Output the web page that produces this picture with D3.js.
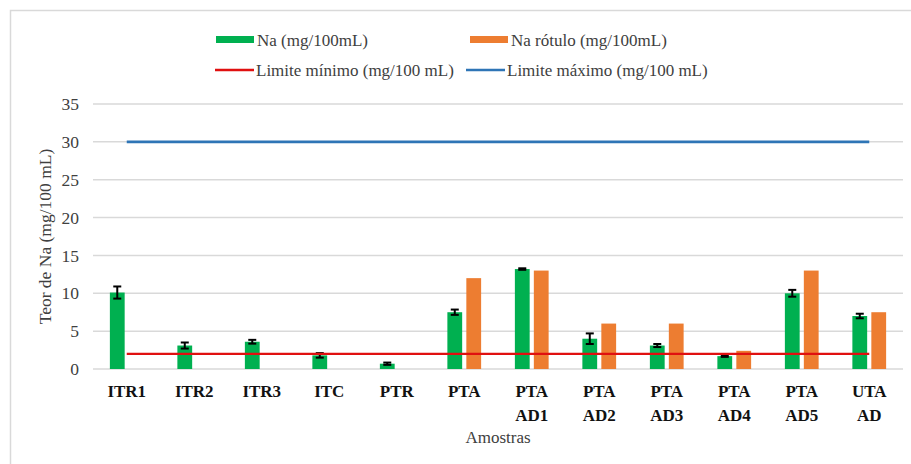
<!DOCTYPE html>
<html>
<head>
<meta charset="utf-8">
<script src="https://cdn.jsdelivr.net/npm/d3@7"></script>
<style>
  body { margin: 0; background: #fff; }
  svg text { font-family: "Liberation Serif", "DejaVu Serif", "Times New Roman", serif !important; }
</style>
</head>
<body>
<svg id="chart" width="911" height="464"></svg>
<script>
// data
var categories = ["ITR1", "ITR2", "ITR3", "ITC", "PTR", "PTA", "PTA AD1", "PTA AD2", "PTA AD3", "PTA AD4", "PTA AD5", "UTA AD"];
var naValues   = [10.1, 3.1, 3.6, 1.8, 0.7, 7.5, 13.2, 4.0, 3.1, 1.7, 10.0, 7.0];
var naErrors   = [0.8, 0.4, 0.25, 0.3, 0.15, 0.35, 0.1, 0.7, 0.2, 0.1, 0.45, 0.3];
var rotuloValues = [null, null, null, null, null, 12, 13, 6, 6, 2.4, 13, 7.5];
var limiteMin = [2, 2, 2, 2, 2, 2, 2, 2, 2, 2, 2, 2];
var limiteMax = [30, 30, 30, 30, 30, 30, 30, 30, 30, 30, 30, 30];
var yTicks = [0, 5, 10, 15, 20, 25, 30, 35];

var seriesNames = ["Na (mg/100mL)", "Na rótulo (mg/100mL)"];
var lineNames = ["Limite mínimo (mg/100 mL)", "Limite máximo (mg/100 mL)"];
var colors = { na: "#00b050", rotulo: "#ed7d31", min: "#e01010", max: "#2e75b6" };

var svg = d3.select("#chart");
var margin = { left: 93, right: 8, top: 104, bottom: 95 };
var W = 911, H = 464;

// outer frame
svg.append("rect")
  .attr("x", 10.5).attr("y", 10.5)
  .attr("width", 920).attr("height", 480)
  .attr("fill", "none").attr("stroke", "#d9d9d9").attr("stroke-width", 1.5);

var x0 = d3.scaleBand()
  .domain(categories)
  .range([margin.left, W - margin.right])
  .paddingInner(0.5)
  .paddingOuter(0.25);

var x1 = d3.scaleBand()
  .domain(["na", "rotulo"])
  .range([0, x0.bandwidth()])
  .paddingInner(0.22);

var y = d3.scaleLinear().domain([0, 35]).range([H - margin.bottom, margin.top]);

// gridlines
svg.append("g").selectAll("line").data(yTicks).join("line")
  .attr("x1", margin.left).attr("x2", W - margin.right)
  .attr("y1", function(d) { return y(d); }).attr("y2", function(d) { return y(d); })
  .attr("stroke", "#d9d9d9").attr("stroke-width", 1.5);

// y axis labels
var yAxis = svg.append("g")
  .attr("transform", "translate(" + (margin.left - 14) + ",0)")
  .call(d3.axisLeft(y).tickValues(yTicks).tickSize(0).tickPadding(0));
yAxis.select(".domain").remove();
yAxis.attr("font-family", null).attr("font-size", null);
yAxis.selectAll("text")
  .attr("font-size", 17.5).attr("fill", "#404040");

// bars: Na
svg.append("g").selectAll("rect").data(categories).join("rect")
  .attr("x", function(d) { return x0(d) + x1("na"); })
  .attr("width", x1.bandwidth())
  .attr("y", function(d, i) { return y(naValues[i]); })
  .attr("height", function(d, i) { return y(0) - y(naValues[i]); })
  .attr("fill", colors.na);

// bars: rótulo
svg.append("g").selectAll("rect").data(categories.filter(function(d, i) { return rotuloValues[i] != null; })).join("rect")
  .attr("x", function(d) { return x0(d) + x1("rotulo"); })
  .attr("width", x1.bandwidth())
  .attr("y", function(d) { return y(rotuloValues[categories.indexOf(d)]); })
  .attr("height", function(d) { return y(0) - y(rotuloValues[categories.indexOf(d)]); })
  .attr("fill", colors.rotulo);

// error bars
var eb = svg.append("g").attr("stroke", "#000").attr("stroke-width", 2);
categories.forEach(function(c, i) {
  var cx = x0(c) + x1("na") + x1.bandwidth() / 2;
  var lo = y(naValues[i] - naErrors[i]), hi = y(naValues[i] + naErrors[i]);
  eb.append("line").attr("x1", cx).attr("x2", cx).attr("y1", lo).attr("y2", hi);
  eb.append("line").attr("x1", cx - 4).attr("x2", cx + 4).attr("y1", lo).attr("y2", lo);
  eb.append("line").attr("x1", cx - 4).attr("x2", cx + 4).attr("y1", hi).attr("y2", hi);
});

// limit lines
var lineGen = function(vals) {
  return d3.line()
    .x(function(d, i) { return x0(categories[i]) + x0.bandwidth() / 2; })
    .y(function(d) { return y(d); })(vals);
};
svg.append("path").attr("d", lineGen(limiteMin))
  .attr("fill", "none").attr("stroke", colors.min).attr("stroke-width", 2.2);
svg.append("path").attr("d", lineGen(limiteMax))
  .attr("fill", "none").attr("stroke", colors.max).attr("stroke-width", 2.8);

// x labels
var xl = svg.append("g");
categories.forEach(function(c) {
  var parts = c.split(" ");
  var t = xl.append("text")
    .attr("x", x0(c) + x0.bandwidth() / 2)
    .attr("y", 397)
    .attr("text-anchor", "middle")
    .attr("font-size", 17).attr("font-weight", "bold").attr("fill", "#111");
  parts.forEach(function(p, k) {
    t.append("tspan").attr("x", x0(c) + x0.bandwidth() / 2).attr("dy", k === 0 ? 0 : 24).text(p);
  });
});

// axis titles
svg.append("text")
  .attr("x", (margin.left + W - margin.right) / 2).attr("y", 443)
  .attr("text-anchor", "middle").attr("font-size", 17).attr("fill", "#404040")
  .text("Amostras");
svg.append("text")
  .attr("transform", "translate(51," + ((y(0) + y(35)) / 2) + ") rotate(-90)")
  .attr("text-anchor", "middle").attr("font-size", 17.5).attr("fill", "#404040")
  .text("Teor de Na (mg/100 mL)");

// legend
var leg = svg.append("g").attr("font-size", 17);
var legRows = [
  { x: 216, y: 40, kind: "rect", color: colors.na, label: seriesNames[0] },
  { x: 470, y: 40, kind: "rect", color: colors.rotulo, label: seriesNames[1] },
  { x: 215, y: 70, kind: "line", color: colors.min, label: lineNames[0] },
  { x: 466, y: 70, kind: "line", color: colors.max, label: lineNames[1] }
];
legRows.forEach(function(r) {
  if (r.kind === "rect") {
    leg.append("rect").attr("x", r.x).attr("y", r.y - 4).attr("width", 38).attr("height", 7).attr("fill", r.color);
  } else {
    leg.append("line").attr("x1", r.x).attr("x2", r.x + 39).attr("y1", r.y).attr("y2", r.y)
      .attr("stroke", r.color).attr("stroke-width", 2.5);
  }
  leg.append("text").attr("x", r.x + 41).attr("y", r.y + 6).attr("fill", "#404040").text(r.label);
});
</script>
</body>
</html>
